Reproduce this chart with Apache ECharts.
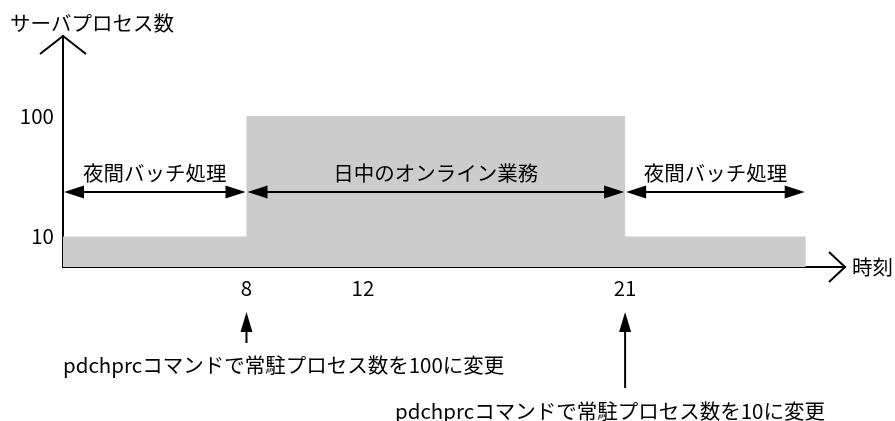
<!DOCTYPE html>
<html>
<head>
<meta charset="utf-8">
<style>
  html, body { margin: 0; padding: 0; background: #fff; }
  #chart { width: 895px; height: 421px; }
</style>
<script src="https://cdn.jsdelivr.net/npm/echarts@6/dist/echarts.min.js"></script>
</head>
<body>
<div id="chart"></div>
<script>
// サーバプロセス数の推移（時刻）
var hours = [1.7, 8, 21, 27.2]
var processes = [10, 100, 10, 10]
var xTicks = [8, 12, 21]
var yTicks = [10, 100]

// 期間の両矢印
var phaseNames = ['夜間バッチ処理', '日中のオンライン業務', '夜間バッチ処理']
var phaseStart = [1.7, 8, 21]
var phaseEnd = [8, 21, 27.2]

// コマンド実行のタイミング
var changeHours = [8, 21]
var changeLabels = [
  'pdchprcコマンドで常駐プロセス数を100に変更',
  'pdchprcコマンドで常駐プロセス数を10に変更'
]

var FONT = '"Noto Sans CJK JP", "Noto Sans", sans-serif'
var FS = 20.5
var arrowLevel = 23.4
var headLen = 20

var chart = echarts.init(document.getElementById('chart'))

function phaseLines(inset) {
  return phaseNames.map(function (n, i) {
    return [
      { name: n, coord: [phaseStart[i] + inset, arrowLevel] },
      { coord: [phaseEnd[i] - inset, arrowLevel] }
    ]
  })
}

chart.setOption({
  animation: false,
  grid: { left: 63, right: 50, top: 36, bottom: 154, outerBoundsMode: 'none' },
  xAxis: {
    type: 'value',
    min: 1.7,
    max: 28.55,
    name: '時刻',
    nameLocation: 'end',
    nameGap: 7,
    nameTextStyle: { color: '#000', fontSize: FS, fontFamily: FONT },
    axisLine: { lineStyle: { color: '#000', width: 2 } },
    axisTick: { show: false },
    splitLine: { show: false },
    axisLabel: {
      customValues: xTicks,
      color: '#000',
      fontSize: FS,
      fontFamily: FONT,
      margin: 11
    }
  },
  yAxis: {
    type: 'log',
    min: 5.58,
    max: 460,
    axisLine: { show: true, lineStyle: { color: '#000', width: 2 } },
    axisTick: { show: false },
    splitLine: { show: false },
    axisLabel: {
      customValues: yTicks,
      color: '#000',
      fontSize: FS,
      fontFamily: FONT,
      margin: 9
    }
  },
  series: [
    {
      type: 'line',
      step: 'end',
      silent: true,
      symbol: 'none',
      data: hours.map(function (h, i) { return [h, processes[i]] }),
      lineStyle: { width: 0 },
      areaStyle: { color: '#cccccc', opacity: 1, origin: 'start' },
      markLine: {
        silent: true,
        symbol: ['triangle', 'triangle'],
        symbolSize: [13, headLen],
        lineStyle: { color: '#000', width: 2, type: 'solid' },
        label: {
          show: true,
          position: 'middle',
          formatter: '{b}',
          color: '#000',
          fontSize: FS,
          fontFamily: FONT,
          distance: 8
        },
        data: phaseLines(0)
      }
    }
  ]
})

// 矢じりの先端が区切りに来るよう、半分だけ内側へ
var pxPerHour = chart.convertToPixel({ xAxisIndex: 0 }, 9) - chart.convertToPixel({ xAxisIndex: 0 }, 8)
var inset = (headLen / 2 + 1) / pxPerHour

// 軸の矢印と注記
var origin = chart.convertToPixel({ gridIndex: 0 }, [1.7, 5.58])
var xEnd = chart.convertToPixel({ xAxisIndex: 0 }, 28.55)
var yTop = chart.convertToPixel({ yAxisIndex: 0 }, 460)
var shaftEnds = [343, 388]
var textPos = [[63, 365], [395, 411]]

var graphics = [
  {
    type: 'polyline',
    shape: { points: [[origin[0] - 23, yTop + 18], [origin[0], yTop], [origin[0] + 23, yTop + 18]] },
    style: { stroke: '#000', lineWidth: 2, fill: null }
  },
  {
    type: 'polyline',
    shape: { points: [[xEnd - 16, origin[1] - 15], [xEnd, origin[1]], [xEnd - 16, origin[1] + 15]] },
    style: { stroke: '#000', lineWidth: 2, fill: null }
  },
  {
    type: 'text',
    style: {
      x: 10, y: 23, text: 'サーバプロセス数', fill: '#000',
      font: FS + 'px ' + FONT, verticalAlign: 'middle'
    }
  }
]

changeHours.forEach(function (h, i) {
  var x = chart.convertToPixel({ xAxisIndex: 0 }, h)
  graphics.push({
    type: 'line',
    shape: { x1: x, y1: 330, x2: x, y2: shaftEnds[i] },
    style: { stroke: '#000', lineWidth: 2 }
  })
  graphics.push({
    type: 'polygon',
    shape: { points: [[x, 312], [x - 6, 332], [x + 6, 332]] },
    style: { fill: '#000' }
  })
  graphics.push({
    type: 'text',
    style: {
      x: textPos[i][0], y: textPos[i][1], text: changeLabels[i], fill: '#000',
      font: FS + 'px ' + FONT, verticalAlign: 'middle'
    }
  })
})

chart.setOption({
  series: [{ markLine: { data: phaseLines(inset) } }],
  graphic: graphics
})
</script>
</body>
</html>
